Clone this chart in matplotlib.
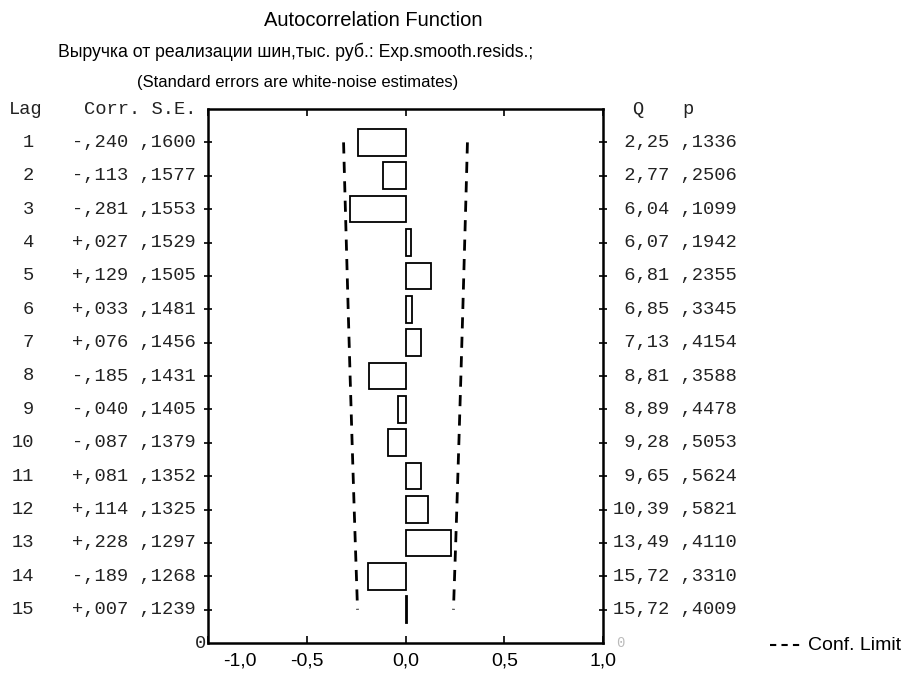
import matplotlib
matplotlib.use('Agg')
import matplotlib.pyplot as plt
import matplotlib.transforms as mtransforms
from matplotlib.patches import Rectangle
from matplotlib.lines import Line2D

# данные автокорреляционной функции
lags = [1, 2, 3, 4, 5, 6, 7, 8, 9, 10, 11, 12, 13, 14, 15]
corr = [-0.240, -0.113, -0.281, 0.027, 0.129, 0.033, 0.076, -0.185,
        -0.040, -0.087, 0.081, 0.114, 0.228, -0.189, 0.007]
se = [0.1600, 0.1577, 0.1553, 0.1529, 0.1505, 0.1481, 0.1456, 0.1431,
      0.1405, 0.1379, 0.1352, 0.1325, 0.1297, 0.1268, 0.1239]
q_stat = [2.25, 2.77, 6.04, 6.07, 6.81, 6.85, 7.13, 8.81, 8.89, 9.28,
          9.65, 10.39, 13.49, 15.72, 15.72]
p_val = [0.1336, 0.2506, 0.1099, 0.1942, 0.2355, 0.3345, 0.4154, 0.3588,
         0.4478, 0.5053, 0.5624, 0.5821, 0.4110, 0.3310, 0.4009]
x_ticks = [-1.0, -0.5, 0.0, 0.5, 1.0]
x_tick_labels = ['-1,0', '-0,5', '0,0', '0,5', '1,0']

W, H = 910, 675
sans = 'Liberation Sans'
mono = 'Liberation Mono'
txt_col = '#222222'

fig = plt.figure(figsize=(W / 100, H / 100), dpi=100)
ax = fig.add_axes([208 / W, 1 - 643 / H, 395 / W, 534 / H])


def fx(px):
    return px / W


def fy(py):
    return 1 - py / H


# столбцы корреляций
for lag, c in zip(lags, corr):
    ax.add_patch(Rectangle((min(0, c), lag - 0.4), abs(c), 0.8,
                           facecolor='none', edgecolor='black', lw=1.3))

# доверительные границы
conf = [1.96 * s for s in se]
ax.plot(conf, lags, color='black', lw=2, ls=(0, (4, 3)))
ax.plot([-v for v in conf], lags, color='black', lw=2, ls=(0, (4, 3)))

ax.set_xlim(-1, 1)
ax.set_ylim(16, 0)
ax.set_xticks(x_ticks)
ax.set_xticklabels(x_tick_labels, fontsize=14, family=sans)
ax.set_yticks(lags)
ax.set_yticklabels([])
ax.tick_params(axis='y', left=True, right=True, direction='inout', length=6, width=1.2)
ax.tick_params(axis='x', top=True, bottom=True, direction='in', length=5, width=1.2, pad=7)
for sp in ax.spines.values():
    sp.set_linewidth(1.8)

# сдвиг подписи -1,0 вправо, как в оригинале
lbl = ax.get_xticklabels()[0]
lbl.set_transform(lbl.get_transform() + mtransforms.ScaledTranslation(0.32, 0, fig.dpi_scale_trans))

# таблицы слева и справа
tr = mtransforms.blended_transform_factory(fig.transFigure, ax.transData)
for lag, c, s, q, p in zip(lags, corr, se, q_stat, p_val):
    sign = '+' if c >= 0 else '-'
    ax.text(fx(34), lag, str(lag), transform=tr, ha='right', va='center',
            family=mono, fontsize=13.5, color=txt_col)
    ax.text(fx(196), lag, f"{sign},{abs(c) * 1000:03.0f} ,{s * 10000:04.0f}",
            transform=tr, ha='right', va='center', family=mono, fontsize=13.5, color=txt_col)
    q_txt = f"{q:.2f}".replace('.', ',')
    ax.text(fx(613), lag, f"{q_txt:>5} ,{p * 10000:04.0f}", transform=tr,
            ha='left', va='center', family=mono, fontsize=13.5, color=txt_col)

ax.text(fx(206), 16, '0', transform=tr, ha='right', va='center', family=mono,
        fontsize=13.5, color=txt_col)
ax.text(fx(616), 16, '0', transform=tr, ha='left', va='center', family=mono,
        fontsize=10, color='#bbbbbb')

fig.text(fx(9), fy(110), 'Lag', ha='left', va='center', family=mono, fontsize=13.5, color=txt_col)
fig.text(fx(197), fy(110), 'Corr. S.E.', ha='right', va='center', family=mono,
         fontsize=13.5, color=txt_col)
fig.text(fx(638), fy(110), 'Q', ha='center', va='center', family=mono, fontsize=13.5, color=txt_col)
fig.text(fx(688), fy(110), 'p', ha='center', va='center', family=mono, fontsize=13.5, color=txt_col)

# заголовки
fig.text(fx(373), fy(20), 'Autocorrelation Function', ha='center', va='center',
         family=sans, fontsize=14.5)
fig.text(fx(296), fy(52), 'Выручка от реализации шин,тыс. руб.: Exp.smooth.resids.;',
         ha='center', va='center', family=sans, fontsize=12.7)
fig.text(fx(298), fy(83), '(Standard errors are white-noise estimates)',
         ha='center', va='center', family=sans, fontsize=12)

# легенда
fig.add_artist(Line2D([fx(770), fx(802)], [fy(645), fy(645)], color='black',
                      lw=1.5, ls=(0, (3, 2.5))))
fig.text(fx(808), fy(645), 'Conf. Limit', ha='left', va='center', family=sans, fontsize=14)

fig.savefig('out.png', dpi=100)
